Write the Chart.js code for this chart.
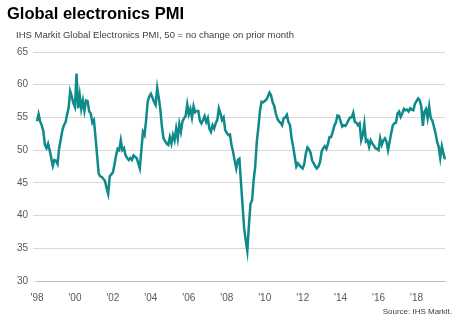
<!DOCTYPE html>
<html><head><meta charset="utf-8">
<script src="https://cdn.jsdelivr.net/npm/chart.js@4"></script>
<style>
html,body{margin:0;padding:0;background:#fff;}
#wrap{position:relative;width:462px;height:325px;overflow:hidden;font-family:"Liberation Sans",Arial,sans-serif;}
canvas{position:absolute;left:0;top:0;}
.t{position:absolute;white-space:nowrap;line-height:1;}
</style></head><body>
<div id="wrap">
<canvas id="c" width="462" height="325"></canvas>
<div class="t" style="left:7px;top:5px;font-size:16.5px;font-weight:bold;color:#000">Global electronics PMI</div>
<div class="t" style="left:16px;top:30px;font-size:9.5px;color:#404040">IHS Markit Global Electronics PMI, 50 = no change on prior month</div>
<div class="t" style="right:10px;top:308px;font-size:8px;color:#404040">Source: IHS Markit.</div>
</div>
<script>
// Monthly values, one array per year
const v1998 = [54.4, 55.5, 54.4, 53.8, 52.9, 50.8, 50.3, 51.0, 50.0, 48.8, 47.6, 48.5];
const v1999 = [48.4, 47.9, 50.3, 51.6, 53.0, 53.8, 54.2, 55.4, 56.5, 59.0, 58.2, 57.2];
const v2000 = [56.6, 61.7, 56.4, 58.4, 56.3, 57.6, 56.0, 57.6, 57.5, 55.9, 55.6, 54.2];
const v2001 = [54.6, 52.0, 49.2, 46.4, 46.0, 45.9, 45.6, 45.3, 44.2, 43.3, 46.0, 46.3];
const v2002 = [46.6, 47.8, 49.2, 50.2, 50.0, 51.5, 50.0, 50.3, 49.2, 48.8, 48.5, 48.8];
const v2003 = [48.5, 49.2, 49.0, 48.8, 48.0, 47.2, 50.0, 52.8, 52.3, 54.6, 57.4, 58.2];
const v2004 = [58.6, 58.0, 57.4, 56.9, 59.5, 58.0, 56.2, 53.6, 51.8, 51.4, 51.0, 50.8];
const v2005 = [52.0, 51.0, 52.3, 51.5, 53.3, 51.8, 54.0, 52.8, 54.4, 54.9, 55.2, 57.0];
const v2006 = [55.5, 56.3, 55.0, 56.7, 55.8, 56.0, 56.0, 54.5, 54.1, 54.6, 55.2, 54.3];
const v2007 = [54.9, 53.3, 52.8, 53.8, 53.3, 54.1, 54.6, 56.4, 55.6, 54.6, 55.0, 53.1];
const v2008 = [52.6, 52.3, 52.4, 50.8, 49.7, 48.4, 47.2, 48.5, 48.7, 45.0, 41.5, 38.0];
const v2009 = [36.2, 34.6, 38.5, 41.8, 42.3, 45.4, 47.5, 51.3, 53.5, 56.0, 57.4, 57.3];
const v2010 = [57.5, 57.7, 58.2, 58.8, 58.4, 57.3, 56.8, 55.6, 54.8, 54.4, 54.2, 53.8];
const v2011 = [54.9, 55.0, 55.4, 54.3, 53.8, 51.8, 50.5, 49.0, 47.5, 48.0, 47.7, 47.4];
const v2012 = [47.2, 47.9, 49.5, 50.4, 50.1, 49.6, 48.4, 48.0, 47.5, 47.2, 47.5, 48.2];
const v2013 = [49.8, 50.3, 50.6, 50.2, 51.0, 52.0, 52.0, 52.8, 53.7, 54.2, 55.3, 55.2];
const v2014 = [54.4, 53.6, 53.8, 53.7, 54.1, 54.6, 55.0, 55.0, 55.7, 54.3, 54.2, 53.8];
const v2015 = [54.1, 51.5, 52.3, 54.0, 51.3, 51.5, 50.5, 51.5, 51.0, 50.7, 50.3, 50.2];
const v2016 = [50.0, 51.8, 50.8, 51.5, 51.8, 51.3, 50.0, 51.3, 52.6, 53.8, 54.1, 54.2];
const v2017 = [55.6, 55.9, 55.1, 55.6, 56.3, 56.1, 56.2, 55.9, 56.4, 56.2, 56.1, 57.1];
const v2018 = [57.5, 57.9, 57.6, 56.7, 53.7, 55.9, 56.3, 54.9, 56.7, 54.9, 54.5, 53.6];
const v2019 = [52.6, 51.3, 50.5, 48.8, 50.6, 49.5, 48.6];

const years = [1998,1999,2000,2001,2002,2003,2004,2005,2006,2007,2008,2009,2010,2011,2012,2013,2014,2015,2016,2017,2018,2019];
const yearValues = [v1998,v1999,v2000,v2001,v2002,v2003,v2004,v2005,v2006,v2007,v2008,v2009,v2010,v2011,v2012,v2013,v2014,v2015,v2016,v2017,v2018,v2019];
const tickYears = [1998,2000,2002,2004,2006,2008,2010,2012,2014,2016,2018];
const tickLabels = ["'98","'00","'02","'04","'06","'08","'10","'12","'14","'16","'18"];
const yMin = 30, yMax = 65, yStep = 5;

// Build categories (year-month) and the series
const categories = [];
const pmi = [];
years.forEach((y, i) => {
  yearValues[i].forEach((v, m) => {
    categories.push(y + '-' + String(m + 1).padStart(2, '0'));
    pmi.push(v);
  });
});

const tickFont = {family: '"Liberation Sans", Arial, sans-serif', size: 10};

new Chart(document.getElementById('c'), {
  type: 'line',
  data: {
    labels: categories,
    datasets: [{
      data: pmi,
      borderColor: '#0e8a8a',
      borderWidth: 2.5,
      pointRadius: 0,
      tension: 0,
      fill: false
    }]
  },
  options: {
    responsive: false,
    animation: false,
    events: [],
    layout: {padding: {top: 52, right: 17, left: 0, bottom: 0}},
    plugins: {legend: {display: false}, tooltip: {enabled: false}},
    scales: {
      x: {
        type: 'category',
        offset: false,
        grid: {display: false, drawTicks: false},
        border: {display: true, color: '#bfbfbf', width: 1},
        ticks: {
          autoSkip: false, maxRotation: 0, minRotation: 0,
          color: '#595959', font: tickFont, padding: 11,
          callback: function(value) {
            const lab = this.getLabelForValue(value);
            const [yy, mm] = lab.split('-');
            const k = tickYears.indexOf(+yy);
            return (mm === '01' && k >= 0) ? tickLabels[k] : null;
          }
        },
        afterFit: s => { s.height = 44; }
      },
      y: {
        min: yMin, max: yMax,
        grid: {color: '#d9d9d9', lineWidth: 1, drawTicks: true, tickLength: 4},
        border: {display: false},
        ticks: {stepSize: yStep, color: '#595959', font: tickFont, padding: 5},
        afterFit: s => { s.width = 37; }
      }
    }
  }
});
</script>
</body></html>
